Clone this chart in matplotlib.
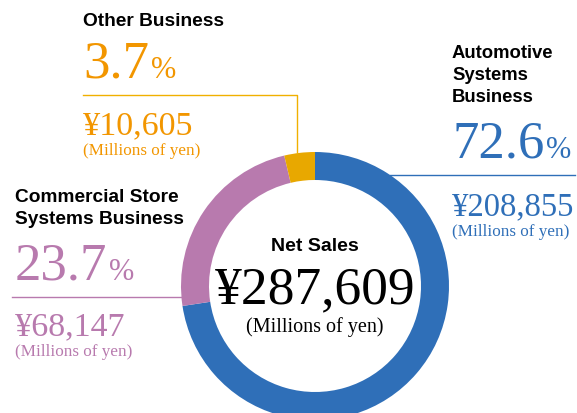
import matplotlib.pyplot as plt

W, H = 577, 413

segments = ['Automotive Systems Business', 'Commercial Store Systems Business', 'Other Business']
sales = [208855, 68147, 10605]
shares = ['72.6', '23.7', '3.7']
amounts = ['¥208,855', '¥68,147', '¥10,605']
total = '¥287,609'
unit = '(Millions of yen)'

ring_cols = ['#2f6fb8', '#b87aae', '#e8a800']
text_cols = ['#2f6fb8', '#b87aae', '#f29600']
line_cols = ['#2f6fb8', '#b87aae', '#f0b000']

SERIF = 'Liberation Serif'
SANS = 'Liberation Sans'

fig = plt.figure(figsize=(W / 100, H / 100), dpi=100)
ax = fig.add_axes([0, 0, 1, 1])

cx, cy, r = 315, 286, 134
ax.pie(sales, colors=ring_cols, startangle=90, counterclock=False,
       center=(cx, H - cy), radius=r,
       wedgeprops=dict(width=28, linewidth=0), frame=True)
ax.set_xlim(0, W)
ax.set_ylim(0, H)
ax.set_aspect('equal')
ax.axis('off')

renderer = fig.canvas.get_renderer()


def put(x, y, s, **kw):
    return ax.text(x, H - y, s, **kw)


def pct(x, y, num, col, size, psize):
    t = put(x, y, num, color=col, fontsize=size, family=SERIF, va='baseline')
    bb = t.get_window_extent(renderer)
    put(bb.x1 + 2, y, '%', color=col, fontsize=psize, family=SERIF, va='baseline')


def seg_block(x, head_base, head_lines, i, pct_base, amt_base, unit_y, hsize=13.8, asize=24.5):
    for k, line in enumerate(head_lines):
        put(x, head_base + 22 * k, line, fontsize=hsize, fontweight='bold',
            family=SANS, va='baseline', color='black')
    pct(x, pct_base, shares[i], text_cols[i], 38, 22)
    put(x, amt_base, amounts[i], color=text_cols[i], fontsize=asize, family=SERIF, va='baseline')
    put(x, unit_y, unit, color=text_cols[i], fontsize=12.3, family=SERIF, va='center')


# Automotive (right)
seg_block(452, 58, ['Automotive', 'Systems', 'Business'], 0, 158, 215, 232, hsize=13.3, asize=23.5)
ax.plot([390, 575], [H - 175, H - 175], color=line_cols[0], lw=1)

# Commercial store (left)
seg_block(15, 202, ['Commercial Store', 'Systems Business'], 1, 280, 335, 352)
ax.plot([12, 182], [H - 297, H - 297], color=line_cols[1], lw=1)

# Other (top)
seg_block(83, 26, ['Other Business'], 2, 78, 134, 151)
ax.plot([83, 297, 297], [H - 95, H - 95, H - 153], color=line_cols[2], lw=1)

# centre
put(cx, 251, 'Net Sales', fontsize=14, fontweight='bold', family=SANS,
    ha='center', va='baseline')
put(cx, 303, total, fontsize=38.5, family=SERIF, ha='center', va='baseline')
put(cx, 327, unit, fontsize=14.5, family=SERIF, ha='center', va='center')

fig.savefig('out.png', dpi=100)
